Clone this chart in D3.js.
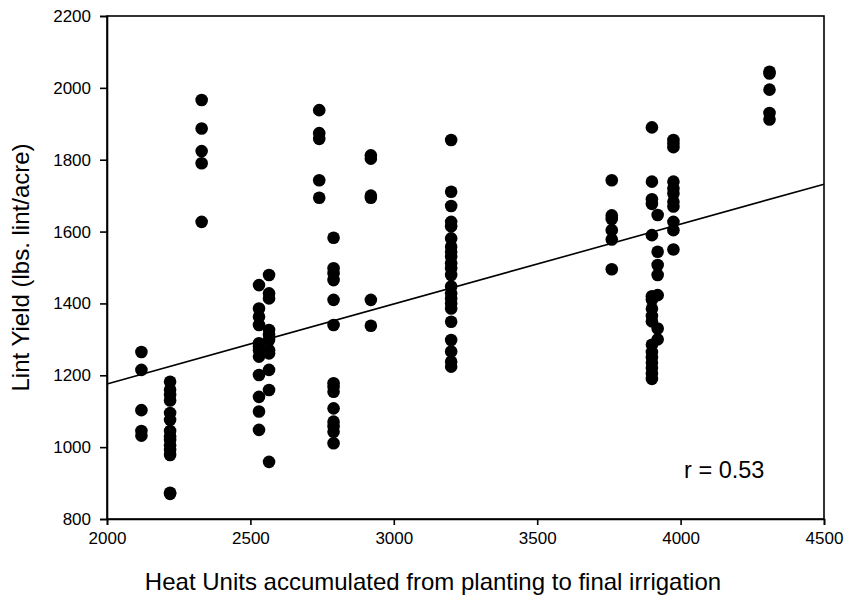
<!DOCTYPE html>
<html>
<head>
<meta charset="utf-8">
<script src="https://cdn.jsdelivr.net/npm/d3@7"></script>
<style>
  html, body { margin: 0; padding: 0; background: #fff; }
  svg { display: block; }
  text { font-family: "Liberation Sans", Arial, sans-serif; fill: #000; }
</style>
</head>
<body>
<svg id="chart" width="849" height="601"></svg>
<script>
// ---- data ----
const xTicks = [2000, 2500, 3000, 3500, 4000, 4500];
const yTicks = [800, 1000, 1200, 1400, 1600, 1800, 2000, 2200];

// heat units of each group of plots
const groupHeat = [2120, 2220, 2330, 2530, 2565, 2740, 2790, 2920, 3200, 3760, 3900, 3920, 3975, 4310];
// lint yields (lbs lint/acre) for each group
const groupYield = [
  [1265, 1215, 1103, 1045, 1032],
  [1182, 1160, 1145, 1130, 1095, 1076, 1045, 1030, 1020, 1005, 992, 978, 873, 870],
  [1966, 1887, 1824, 1790, 1627],
  [1451, 1386, 1363, 1340, 1289, 1280, 1270, 1252, 1201, 1140, 1099, 1048],
  [1479, 1428, 1414, 1326, 1312, 1298, 1270, 1261, 1215, 1159, 959],
  [1938, 1874, 1858, 1743, 1694],
  [1583, 1498, 1484, 1465, 1410, 1340, 1178, 1168, 1154, 1108, 1071, 1058, 1043, 1011],
  [1812, 1803, 1700, 1694, 1410, 1338],
  [1855, 1711, 1671, 1627, 1615, 1581, 1558, 1544, 1530, 1512, 1498, 1479, 1447, 1428, 1414, 1400, 1386, 1349, 1298, 1266, 1238, 1224],
  [1743, 1645, 1635, 1604, 1578, 1495],
  [1890, 1739, 1690, 1677, 1590, 1420, 1410, 1385, 1365, 1350, 1285, 1265, 1250, 1235, 1220, 1205, 1190],
  [1646, 1544, 1507, 1479, 1423, 1330, 1300],
  [1855, 1845, 1835, 1739, 1720, 1706, 1683, 1670, 1627, 1604, 1550],
  [2045, 2040, 1995, 1930, 1912]
];

// regression line endpoints (heat units, yield)
const fitHeat = [2000, 4500];
const fitYield = [1176, 1732];
const rLabel = "r = 0.53";
const rPos = [4012, 935];

const xTitle = "Heat Units accumulated from planting to final irrigation";
const yTitle = "Lint Yield (lbs. lint/acre)";

// ---- layout ----
const svg = d3.select("#chart");
const L = 107, R = 824, T = 16, B = 519;

const x = d3.scaleLinear().domain([2000, 4500]).range([L, R]);
const y = d3.scaleLinear().domain([800, 2200]).range([B, T]);

const points = [];
groupHeat.forEach((h, i) => groupYield[i].forEach(v => points.push([h, v])));

// frame
svg.append("rect")
  .attr("x", L).attr("y", T).attr("width", R - L).attr("height", B - T)
  .attr("fill", "none").attr("stroke", "#000").attr("stroke-width", 1.6);

// axes
const xAxis = svg.append("g").attr("transform", `translate(0,${B})`)
  .call(d3.axisBottom(x).tickValues(xTicks).tickFormat(d3.format("d")).tickSizeOuter(0).tickSize(6).tickPadding(7));
const yAxis = svg.append("g").attr("transform", `translate(${L},0)`)
  .call(d3.axisLeft(y).tickValues(yTicks).tickFormat(d3.format("d")).tickSizeOuter(0).tickSize(7).tickPadding(9));

[xAxis, yAxis].forEach(g => {
  g.select(".domain").attr("stroke", "#000").attr("stroke-width", 1.6);
  g.selectAll(".tick line").attr("stroke", "#000").attr("stroke-width", 1.6);
  g.selectAll(".tick text").attr("font-size", 17).attr("font-family", "Liberation Sans, Arial, sans-serif").attr("fill", "#000");
});

// points
svg.append("g").selectAll("circle").data(points).join("circle")
  .attr("cx", d => x(d[0])).attr("cy", d => y(d[1])).attr("r", 6.3).attr("fill", "#000");

// regression line
svg.append("line")
  .attr("x1", x(fitHeat[0])).attr("y1", y(fitYield[0]))
  .attr("x2", x(fitHeat[1])).attr("y2", y(fitYield[1]))
  .attr("stroke", "#000").attr("stroke-width", 1.6);

// r label
svg.append("text").attr("x", x(rPos[0])).attr("y", y(rPos[1]))
  .attr("dominant-baseline", "central").attr("font-size", 23.5).text(rLabel);

// titles
svg.append("text").attr("x", 433).attr("y", 590).attr("text-anchor", "middle")
  .attr("font-size", 24).text(xTitle);
svg.append("text").attr("transform", `translate(29,${(T + B) / 2}) rotate(-90)`)
  .attr("text-anchor", "middle").attr("font-size", 24).text(yTitle);
</script>
</body>
</html>
